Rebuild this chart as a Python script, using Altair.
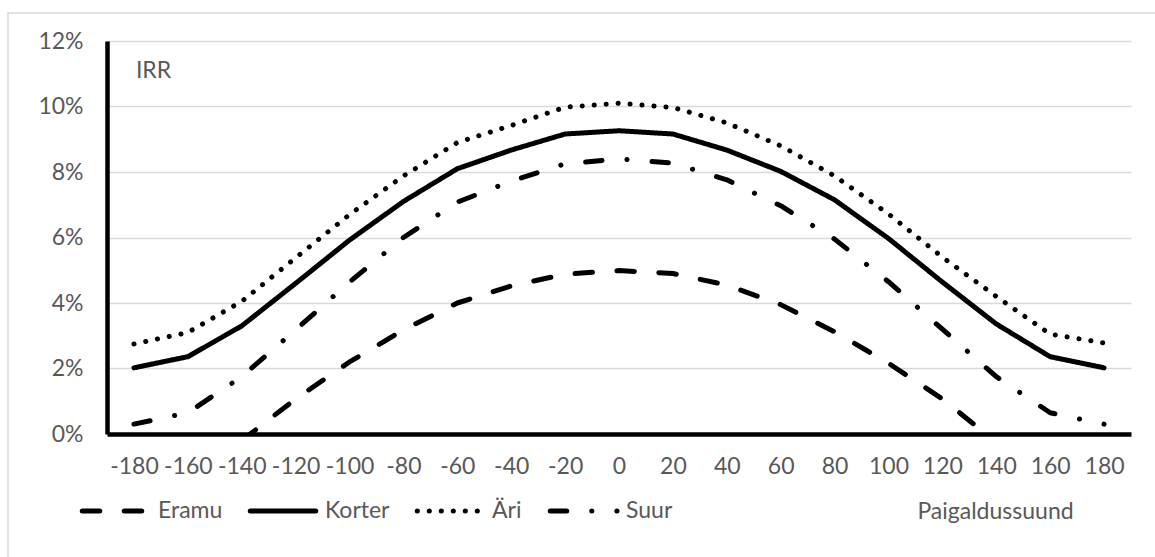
import altair as alt
import pandas as pd

# Installation azimuth (degrees) on the category axis
angles = [-180, -160, -140, -120, -100, -80, -60, -40, -20, 0,
          20, 40, 60, 80, 100, 120, 140, 160, 180]

# IRR in percent for each building type (None = no point)
eramu = [None, None, -0.2, 1.07, 2.2, 3.18, 4.0, 4.52, 4.88, 4.99,
         4.9, 4.55, 3.95, 3.12, 2.16, 1.07, -0.25, None, None]
korter = [2.02, 2.36, 3.3, 4.6, 5.92, 7.1, 8.1, 8.67, 9.16, 9.26,
          9.16, 8.67, 8.02, 7.15, 5.97, 4.64, 3.36, 2.36, 2.02]
ari = [2.75, 3.1, 4.05, 5.38, 6.7, 7.88, 8.9, 9.42, 9.98, 10.1,
       9.97, 9.5, 8.8, 7.88, 6.72, 5.4, 4.2, 3.05, 2.78]
suur = [0.3, 0.65, 1.75, 3.18, 4.64, 6.0, 7.08, 7.72, 8.25, 8.4,
        8.27, 7.76, 6.97, 5.95, 4.65, 3.2, 1.75, 0.65, 0.3]

series_names = ["Eramu", "Korter", "Äri", "Suur"]
series_values = [eramu, korter, ari, suur]
dash_styles = [[17.5, 24.5], [1, 0], [0.1, 11.9], [16.5, 25, 0.1, 25]]

y_ticks = [0, 0.02, 0.04, 0.06, 0.08, 0.10, 0.12]

FONT = "Lato"
TEXT_COLOR = "#595959"
FS = 23
LINE_W = 5

rows = []
for name, vals in zip(series_names, series_values):
    for a, v in zip(angles, vals):
        if v is not None:
            rows.append({"angle": a, "series": name, "irr": v / 100})
df = pd.DataFrame(rows)

lines = alt.Chart(df).mark_line(
    color="black", strokeWidth=LINE_W, strokeCap="round", strokeJoin="round", clip=True
).encode(
    x=alt.X(
        "angle:O",
        sort=angles,
        scale=alt.Scale(type="point", padding=0.5),
        axis=alt.Axis(
            title="Paigaldussuund",
            titleX=888, titleY=77, titleAlign="center", titleBaseline="middle",
            titleFont=FONT, titleFontSize=FS, titleFontWeight="normal", titleColor=TEXT_COLOR,
            labelAngle=0, labelFont=FONT, labelFontSize=FS, labelColor=TEXT_COLOR,
            labelBaseline="top", labelPadding=21, ticks=False, tickSize=0, grid=False,
            domainColor="black", domainWidth=4.5,
        ),
    ),
    y=alt.Y(
        "irr:Q",
        scale=alt.Scale(domain=[0, 0.12], nice=False),
        axis=alt.Axis(
            values=y_ticks, format=".0%",
            title="IRR", titleAngle=0, titleX=46, titleY=29,
            titleAlign="center", titleBaseline="middle",
            titleFont=FONT, titleFontSize=FS, titleFontWeight="normal", titleColor=TEXT_COLOR,
            labelFont=FONT, labelFontSize=FS, labelColor=TEXT_COLOR, labelPadding=24,
            ticks=False, tickSize=0, grid=True, gridColor="#d9d9d9", gridWidth=1.5,
            domainColor="black", domainWidth=4.5,
        ),
    ),
    strokeDash=alt.StrokeDash(
        "series:N",
        sort=series_names,
        scale=alt.Scale(domain=series_names, range=dash_styles),
        legend=None,
    ),
)

# legend row under the axis: sample stroke + label for each series
legend_stroke_x = [(-24.75, 35.75), (143.25, 208.75), (310.25, 371), (443.25, 510)]
legend_label_x = [51, 218, 385, 519]
LEGEND_Y = 470

one = pd.DataFrame({"k": [0]})
legend_layers = []
for name, dash, (x0, x1), lx in zip(series_names, dash_styles, legend_stroke_x, legend_label_x):
    legend_layers.append(
        alt.Chart(one).mark_rule(
            color="black", strokeWidth=LINE_W, strokeCap="round", strokeDash=dash
        ).encode(x=alt.value(x0), x2=alt.value(x1), y=alt.value(LEGEND_Y))
    )
    legend_layers.append(
        alt.Chart(one).mark_text(
            align="left", baseline="middle", font=FONT, fontSize=FS, color=TEXT_COLOR
        ).encode(x=alt.value(lx), y=alt.value(LEGEND_Y), text=alt.value(name))
    )

# light frame around the whole figure
frame = alt.Chart(one).mark_rect(
    filled=False, stroke="#d9d9d9", strokeWidth=1.5
).encode(
    x=alt.value(-99), x2=alt.value(1060), y=alt.value(-28), y2=alt.value(530)
)

chart = alt.layer(frame, lines, *legend_layers).properties(
    width=1024, height=393,
    padding={"left": 107, "top": 41, "right": 24, "bottom": 123},
    autosize=alt.AutoSizeParams(type="none"),
    background="white",
).configure_view(stroke=None)

chart.save("out.html", embed_options={"renderer": "svg", "actions": False})
